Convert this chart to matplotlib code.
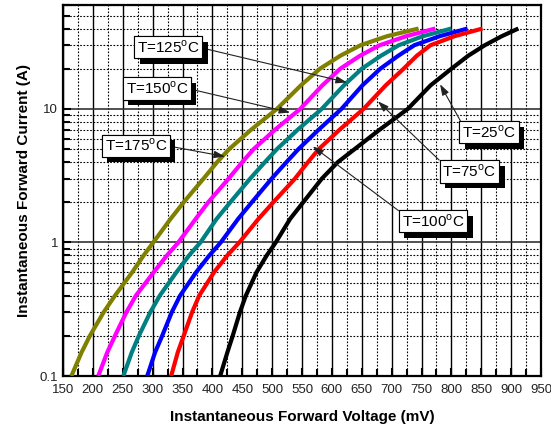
import numpy as np
import matplotlib
matplotlib.use("Agg")
import matplotlib.pyplot as plt
import matplotlib.patheffects as pe
from matplotlib.ticker import FixedLocator, NullFormatter, MultipleLocator

plt.rcParams['font.family'] = ['Liberation Sans', 'DejaVu Sans']

current = [0.1, 0.15, 0.2, 0.3, 0.4, 0.6, 0.8, 1, 1.5, 2, 3, 4, 5, 7,
           10, 15, 20, 25, 30, 35, 40]

# forward voltage (mV) per temperature
v_175 = [164, 181, 195, 218, 237, 266, 285, 301, 330, 352, 385, 408, 428, 465,
         508, 548, 580, 614, 648, 692, 745]
v_150 = [209, 224, 237, 256, 272, 302, 324, 343, 372, 393, 427, 450, 469, 505,
         547, 584, 614, 647, 680, 724, 773]
v_125 = [251, 265, 277, 296, 312, 340, 361, 380, 407, 430, 463, 488, 508, 543,
         583, 620, 650, 682, 712, 752, 800]
v_100 = [291, 304, 316, 332, 346, 373, 395, 414, 443, 466, 499, 524, 544, 578,
         616, 651, 681, 711, 738, 780, 827]
v_75 = [331, 342, 352, 366, 378, 403, 425, 445, 477, 502, 538, 560, 578, 613,
        653, 690, 720, 742, 765, 805, 852]
v_25 = [413, 425, 434, 446, 456, 474, 491, 506, 530, 552, 583, 610, 638, 680,
        727, 765, 800, 828, 856, 884, 912]

curves = [
    (v_175, '#808000'),
    (v_150, '#ff00ff'),
    (v_125, '#008080'),
    (v_100, '#0000ff'),
    (v_75, '#ff0000'),
    (v_25, '#000000'),
]

# labels: text, text position (mV, A), arrow target (mV, A), arrow start on box
labels = [
    ('125', (326, 28.9), (625, 15.8), (1, 0.5)),
    ('150', (307, 14.2), (530, 9.4), (1, 0.5)),
    ('175', (272, 5.3), (421, 4.4), (1, 0.5)),
    ('25', (863, 6.7), (781, 15.3), (0, 1)),
    ('75', (830, 3.4), (677, 11.4), (0, 1)),
    ('100', (769, 1.44), (568, 5.24), (0, 1)),
]

fig = plt.figure(figsize=(5.51, 4.34), dpi=100)
ax = fig.add_axes([0.1143, 0.1336, 0.8677, 0.8549])

ax.set_yscale('log')
ax.set_xlim(150, 950)
ax.set_ylim(0.1, 60)

# grid
ax.xaxis.set_major_locator(MultipleLocator(50))
ax.xaxis.set_minor_locator(MultipleLocator(25))
ax.yaxis.set_major_locator(FixedLocator([0.1, 1, 10]))
minors = [m * d for d in (0.1, 1, 10) for m in range(2, 10)]
ax.yaxis.set_minor_locator(FixedLocator(minors))
ax.yaxis.set_minor_formatter(NullFormatter())
ax.set_yticklabels(['0.1', '1', '10'])

ax.grid(which='major', axis='x', color='black', lw=1.0, ls='-')
ax.grid(which='minor', axis='x', color='black', lw=0.8, ls=(0, (1.5, 1.5)))
ax.grid(which='major', axis='y', color='#333333', lw=1.2, ls='-')
ax.grid(which='minor', axis='y', color='black', lw=0.8, ls=(0, (1.5, 1.5)))
ax.set_axisbelow(True)

ax.tick_params(which='both', direction='in', top=False, right=False,
               labelsize=9.5, width=1.5, colors='black')
ax.tick_params(which='major', length=6)
ax.tick_params(which='minor', length=5)
ax.tick_params(axis='x', which='major', pad=6)
for lab in ax.get_xticklabels() + ax.get_yticklabels():
    lab.set_color('#222222')

for s in ax.spines.values():
    s.set_linewidth(1.6)
    s.set_color('black')

for v, c in curves:
    ax.plot(v, current, color=c, lw=3, solid_capstyle='butt',
            solid_joinstyle='round', zorder=3)

for t, pos, tip, rel in labels:
    txt = ax.annotate(r'T=' + t + r'$^\mathregular{o}$C', xy=tip, xytext=pos,
                      ha='center', va='center', fontsize=11, zorder=5,
                      bbox=dict(boxstyle='square,pad=0.18', fc='white', ec='black', lw=0.8),
                      arrowprops=dict(arrowstyle='-|>,head_length=0.6,head_width=0.2',
                                      color='#222222', lw=0.8, relpos=rel,
                                      shrinkA=0, shrinkB=0))
    txt.get_bbox_patch().set_path_effects(
        [pe.withSimplePatchShadow(offset=(4, -4), shadow_rgbFace='black', alpha=1.0),
         pe.Normal()])

ax.set_xlabel('Instantaneous Forward Voltage (mV)', fontsize=11, fontweight='bold', labelpad=10)
ax.set_ylabel('Instantaneous Forward Current (A)', fontsize=11, fontweight='bold', labelpad=6)

fig.savefig('out.png', dpi=100)
